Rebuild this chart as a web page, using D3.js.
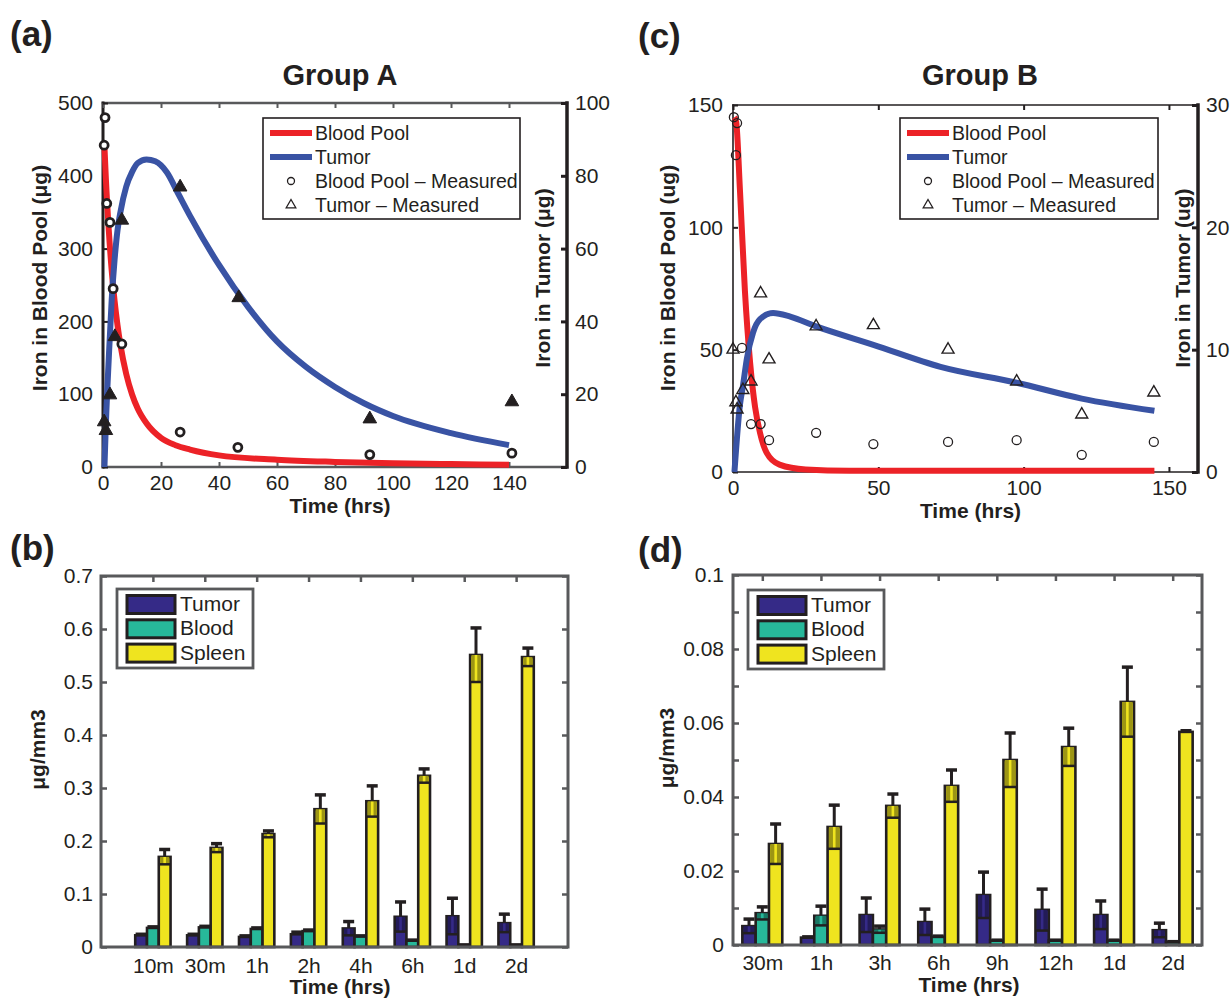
<!DOCTYPE html>
<html>
<head>
<meta charset="utf-8">
<script src="https://cdn.jsdelivr.net/npm/d3@7"></script>
<style>
  body { margin: 0; background: #fff; }
  svg { display: block; }
  text { font-family: "Liberation Sans", Arial, Helvetica, sans-serif; fill: #231f20; }
</style>
</head>
<body>
<svg id="fig" width="1231" height="1000"></svg>
<script>
// ---- Group A (panel a) ----
const aBloodFitT = [0.5, 1, 2, 3, 4, 5, 6, 8, 10, 12, 15, 20, 25, 30, 40, 60, 80, 100, 120, 140];
const aBloodFitV = [440, 395, 325, 270, 228, 195, 168, 128, 100, 80, 60, 40, 30, 24, 16, 10, 7, 5, 4, 3];
const aTumorFitT = [0.5, 1, 2, 3, 4, 5, 6, 8, 10, 12, 15, 18, 22, 26, 30, 40, 50, 60, 70, 80, 90, 100, 120, 140];
const aTumorFitV = [0, 12, 30, 46, 57, 65, 70, 77, 81, 83.5, 84.5, 84, 81, 75, 69, 55.5, 44, 34.5, 27.5, 22, 17.5, 14, 9.3, 6];
const aBloodMeasT = [0.7, 0.4, 1.3, 2.4, 3.5, 6.5, 26.6, 46.5, 92, 141];
const aBloodMeasV = [480, 442, 362, 336, 245, 169, 48, 27, 17, 19];
const aTumorMeasT = [0.4, 1.0, 2.4, 4.1, 6.5, 26.6, 46.8, 92, 141];
const aTumorMeasV = [12.4, 10, 19.8, 35.8, 67.8, 76.9, 46.5, 13.2, 17.9];

// ---- Group B (panel c) ----
const cBloodFitT = [0.5, 1.1, 2.4, 4.1, 5.9, 7.6, 9.3, 11.6, 16, 25, 40, 60, 100, 145];
const cBloodFitV = [145, 143, 115, 74, 44.5, 26.5, 16, 7.8, 3, 1, 0.5, 0.5, 0.5, 0.5];
const cTumorFitT = [0.5, 2.4, 3.4, 4.8, 6.9, 9.3, 13.8, 19.7, 28.6, 48.3, 71.4, 97.6, 120, 145];
const cTumorFitV = [0, 5.5, 7.0, 9.3, 11.4, 12.5, 13, 12.7, 11.9, 10.4, 8.6, 7.3, 6.0, 5.0];
const cBloodMeasT = [0.3, 1.4, 1, 3.1, 6.2, 9.5, 12.4, 28.6, 48.3, 74, 97.6, 120, 144.8];
const cBloodMeasV = [145, 142.6, 129.5, 50.7, 19.6, 19.6, 13, 16, 11.4, 12.3, 13, 7, 12.3];
const cTumorMeasT = [0, 1, 1.4, 3.4, 6.2, 9.5, 12.4, 28.6, 48.3, 74, 97.6, 120, 144.8];
const cTumorMeasV = [10, 5.7, 5.1, 6.7, 7.4, 14.6, 9.2, 11.9, 12, 10, 7.4, 4.7, 6.5];

// ---- bar panels ----
const seriesNames = ['Tumor', 'Blood', 'Spleen'];
const seriesColors = ['#352a87', '#27b89a', '#efe41f'];

const bCats = ['10m', '30m', '1h', '2h', '4h', '6h', '1d', '2d'];
const bTumor = [0.022, 0.022, 0.019, 0.024, 0.035, 0.057, 0.058, 0.045];
const bTumorErr = [0.002, 0.002, 0.002, 0.004, 0.013, 0.028, 0.034, 0.017];
const bBlood = [0.036, 0.037, 0.034, 0.030, 0.020, 0.012, 0.003, 0.003];
const bBloodErr = [0.002, 0.002, 0.002, 0.002, 0.001, 0.001, 0.001, 0.001];
const bSpleen = [0.170, 0.187, 0.213, 0.260, 0.275, 0.323, 0.551, 0.547];
const bSpleenErr = [0.014, 0.008, 0.006, 0.027, 0.029, 0.013, 0.051, 0.017];
const bTicks = [0, 0.1, 0.2, 0.3, 0.4, 0.5, 0.6, 0.7];

const dCats = ['30m', '1h', '3h', '6h', '9h', '12h', '1d', '2d'];
const dTumor = [0.0051, 0.002, 0.0081, 0.0062, 0.0135, 0.0095, 0.0081, 0.004];
const dTumorErr = [0.0019, 0.0002, 0.0046, 0.0035, 0.0062, 0.0056, 0.0038, 0.0019];
const dBlood = [0.0086, 0.0079, 0.0042, 0.0022, 0.0012, 0.0012, 0.0012, 0.0008];
const dBloodErr = [0.0017, 0.0026, 0.0009, 0.0002, 0.0001, 0.0001, 0.0001, 0.0001];
const dSpleen = [0.0273, 0.0319, 0.0376, 0.043, 0.05, 0.0535, 0.0657, 0.0576];
const dSpleenErr = [0.0054, 0.0059, 0.0032, 0.0043, 0.0073, 0.0051, 0.0094, 0.0003];
const dTicks = [0, 0.01, 0.02, 0.03, 0.04, 0.05, 0.06, 0.07, 0.08, 0.09, 0.1];
const dLabelTicks = ['0', '', '0.02', '', '0.04', '', '0.06', '', '0.08', '', '0.1'];

const svg = d3.select('#fig');
const ink = '#231f20';
const grey = '#58595b';
const red = '#ec2227';
const blue = '#3953a4';
const FS = 21;

function fixAxis(g, color, width) {
  g.attr('font-size', FS).attr('font-family', null).attr('color', color);
  g.select('.domain').remove();
  g.selectAll('.tick line').attr('stroke-width', width);
  g.selectAll('.tick text').attr('fill', ink);
}

function boxLine(x1, y1, x2, y2, color, width, cap = 'square') {
  svg.append('line').attr('x1', x1).attr('y1', y1).attr('x2', x2).attr('y2', y2)
    .attr('stroke', color).attr('stroke-width', width).attr('stroke-linecap', cap);
}

function label(txt, x, y, size, opts = {}) {
  const t = svg.append('text').attr('x', x).attr('y', y).attr('font-size', size)
    .attr('font-weight', opts.bold ? 'bold' : null)
    .attr('text-anchor', opts.anchor || 'start').text(txt);
  if (opts.rotate) t.attr('x', 0).attr('y', 0).attr('transform', `translate(${x},${y}) rotate(-90)`);
  return t;
}

function linePanel(p) {
  const x = d3.scaleLinear().domain([0, 160]).range([p.left, p.right]);
  const yL = d3.scaleLinear().domain([0, p.yLMax]).range([p.bottom, p.top]);
  const yR = d3.scaleLinear().domain([0, p.yRMax]).range([p.bottom, p.top]);

  // frame
  boxLine(p.left, p.top, p.right, p.top, p.frameColor, p.frameWidth);
  boxLine(p.left, p.bottom, p.right, p.bottom, p.frameColor, p.frameWidth);
  boxLine(p.left, p.top, p.left, p.bottom, ink, p.leftWidth);
  boxLine(p.right, p.top, p.right, p.bottom, ink, 3.5);

  svg.append('g').attr('transform', `translate(0,${p.bottom})`)
    .call(d3.axisBottom(x).tickValues(p.xTicks).tickSizeInner(-5).tickSizeOuter(0).tickPadding(8))
    .call((g) => fixAxis(g, p.frameColor, 2));
  svg.append('g').attr('transform', `translate(0,${p.top})`)
    .call(d3.axisTop(x).tickValues(p.xTicks).tickFormat('').tickSizeInner(-5).tickSizeOuter(0))
    .call((g) => fixAxis(g, p.frameColor, 2));
  svg.append('g').attr('transform', `translate(${p.left},0)`)
    .call(d3.axisLeft(yL).tickValues(p.yLTicks).tickSizeInner(-5).tickSizeOuter(0).tickPadding(10))
    .call((g) => fixAxis(g, ink, 2));
  svg.append('g').attr('transform', `translate(${p.right},0)`)
    .call(d3.axisRight(yR).tickValues(p.yRTicks).tickSizeInner(-6).tickSizeOuter(0).tickPadding(8))
    .call((g) => fixAxis(g, ink, 3));

  const lineL = d3.line().x((d) => x(d[0])).y((d) => yL(d[1])).curve(d3.curveMonotoneX);
  const lineR = d3.line().x((d) => x(d[0])).y((d) => yR(d[1])).curve(d3.curveMonotoneX);

  svg.append('path').attr('d', lineL(d3.zip(p.bloodFitT, p.bloodFitV)))
    .attr('fill', 'none').attr('stroke', red).attr('stroke-width', 6);
  svg.append('path').attr('d', lineR(d3.zip(p.tumorFitT, p.tumorFitV)))
    .attr('fill', 'none').attr('stroke', blue).attr('stroke-width', 6);

  svg.append('g').selectAll('circle').data(d3.zip(p.bloodMeasT, p.bloodMeasV)).join('circle')
    .attr('cx', (d) => x(d[0])).attr('cy', (d) => yL(d[1])).attr('r', p.filled ? 4 : 4.5)
    .attr('fill', p.filled ? '#fff' : 'none').attr('stroke', ink).attr('stroke-width', p.filled ? 2.8 : 1.3);

  const tri = d3.symbol().type(d3.symbolTriangle).size(p.filled ? 80 : 62);
  svg.append('g').selectAll('path').data(d3.zip(p.tumorMeasT, p.tumorMeasV)).join('path')
    .attr('d', tri).attr('transform', (d) => `translate(${x(d[0])},${yR(d[1])})`)
    .attr('fill', p.filled ? ink : 'none').attr('stroke', ink).attr('stroke-width', p.filled ? 1 : 1.4);

  // legend
  const L = p.legend;
  svg.append('rect').attr('x', L.x).attr('y', L.y).attr('width', L.w).attr('height', L.h)
    .attr('fill', '#fff').attr('stroke', ink).attr('stroke-width', 1.6);
  const rows = [L.y + 15, L.y + 39, L.y + 63, L.y + 87];
  const sx0 = L.x + 7, sx1 = L.x + 49, tx = L.x + 52, mx = L.x + 28;
  boxLine(sx0, rows[0], sx1, rows[0], red, 6, 'butt');
  boxLine(sx0, rows[1], sx1, rows[1], blue, 6, 'butt');
  svg.append('circle').attr('cx', mx).attr('cy', rows[2]).attr('r', 3.5)
    .attr('fill', 'none').attr('stroke', ink).attr('stroke-width', 1.3);
  svg.append('path').attr('d', d3.symbol().type(d3.symbolTriangle).size(40))
    .attr('transform', `translate(${mx},${rows[3]})`).attr('fill', 'none').attr('stroke', ink).attr('stroke-width', 1.3);
  ['Blood Pool', 'Tumor', 'Blood Pool \u2013 Measured', 'Tumor \u2013 Measured'].forEach((s, i) => {
    label(s, tx, rows[i] + 7, 19.5);
  });

  label(p.title, p.titleX, 85, 29, { bold: true, anchor: 'middle' });
  label('Time (hrs)', (p.left + p.right) / 2 + 5, p.bottom + 46, FS, { bold: true, anchor: 'middle' });
  label(p.yLLabel, p.yLLabelX, 278, FS, { bold: true, anchor: 'middle', rotate: true });
  label(p.yRLabel, p.yRLabelX, 278, FS, { bold: true, anchor: 'middle', rotate: true });
}

function barPanel(p) {
  const x = d3.scaleLinear().domain(p.xDomain).range([p.left, p.right]);
  const y = d3.scaleLinear().domain([0, p.yMax]).range([p.bottom, p.top]);
  const idx = p.cats.map((_, i) => i + 1);
  const step = x(2) - x(1);
  const bw = step * 0.227;

  const series = p.values.map((vals, s) => ({ name: seriesNames[s], color: seriesColors[s], vals, errs: p.errors[s], off: (s - 1) * bw }));

  series.forEach((s) => {
    svg.append('g').selectAll('rect').data(s.vals).join('rect')
      .attr('x', (d, i) => x(i + 1) + s.off - bw / 2).attr('width', bw)
      .attr('y', (d) => y(d)).attr('height', (d) => y(0) - y(d))
      .attr('fill', s.color).attr('stroke', ink).attr('stroke-width', 2.6);
  });

  series.forEach((s) => {
    const dark = d3.color(s.color).darker(1.2).formatHex();
    s.vals.forEach((v, i) => {
      const e = s.errs[i];
      const cx = x(i + 1) + s.off;
      const g = svg.append('g');
      const lo = y(Math.max(v - e, 0));
      if (lo - y(v) > 3) {
        g.append('rect').attr('x', cx - bw / 2 + 1.3).attr('width', bw - 2.6)
          .attr('y', y(v)).attr('height', lo - y(v)).attr('fill', dark);
        g.append('rect').attr('x', cx - 1.3).attr('width', 2.6)
          .attr('y', y(v)).attr('height', lo - y(v)).attr('fill', s.color);
        g.append('line').attr('x1', cx - bw / 2).attr('x2', cx + bw / 2).attr('y1', lo).attr('y2', lo)
          .attr('stroke', ink).attr('stroke-width', 2.5);
      }
      g.append('line').attr('x1', cx).attr('x2', cx).attr('y1', y(v)).attr('y2', y(v + e))
        .attr('stroke', ink).attr('stroke-width', 3);
      g.append('line').attr('x1', cx - 5.5).attr('x2', cx + 5.5).attr('y1', y(v + e)).attr('y2', y(v + e))
        .attr('stroke', ink).attr('stroke-width', 3.5);
    });
  });

  svg.append('g').attr('transform', `translate(0,${p.bottom})`)
    .call(d3.axisBottom(x).tickValues(idx).tickFormat((d) => p.cats[d - 1]).tickSizeInner(0).tickSizeOuter(0).tickPadding(p.xPad))
    .call((g) => fixAxis(g, grey, 2.5));
  svg.append('g').attr('transform', `translate(0,${p.top})`)
    .call(d3.axisTop(x).tickValues(idx).tickFormat('').tickSizeInner(-6).tickSizeOuter(0))
    .call((g) => fixAxis(g, grey, 2.5));
  svg.append('g').attr('transform', `translate(${p.left},0)`)
    .call(d3.axisLeft(y).tickValues(p.ticks).tickFormat((d, i) => p.tickLabels[i]).tickSizeInner(-6).tickSizeOuter(0).tickPadding(p.yPad))
    .call((g) => fixAxis(g, grey, 2.5));
  svg.append('g').attr('transform', `translate(${p.right},0)`)
    .call(d3.axisRight(y).tickValues(p.ticks).tickFormat('').tickSizeInner(-6).tickSizeOuter(0))
    .call((g) => fixAxis(g, grey, 2.5));
  svg.append('rect').attr('x', p.left).attr('y', p.top).attr('width', p.right - p.left).attr('height', p.bottom - p.top)
    .attr('fill', 'none').attr('stroke', grey).attr('stroke-width', 3);

  // legend
  const L = p.legend;
  svg.append('rect').attr('x', L.x).attr('y', L.y).attr('width', 136).attr('height', 79)
    .attr('fill', '#fff').attr('stroke', grey).attr('stroke-width', 2.8);
  series.forEach((s, i) => {
    svg.append('rect').attr('x', L.x + 10).attr('y', L.y + 6.5 + i * 24.3).attr('width', 48).attr('height', 18)
      .attr('fill', s.color).attr('stroke', ink).attr('stroke-width', 3);
    label(s.name, L.x + 63, L.y + 22 + i * 24.3, FS);
  });

  label('Time (hrs)', p.timeX, p.bottom + 47, FS, { bold: true, anchor: 'middle' });
  label('\u03bcg/mm3', p.yLabelX, (p.top + p.bottom) / 2 - 12, FS, { bold: true, anchor: 'middle', rotate: true });
}

linePanel({
  left: 103, right: 567, top: 103, bottom: 467,
  yLMax: 500, yRMax: 100,
  xTicks: [0, 20, 40, 60, 80, 100, 120, 140],
  yLTicks: [0, 100, 200, 300, 400, 500],
  yRTicks: [0, 20, 40, 60, 80, 100],
  frameColor: grey, frameWidth: 2.5, leftWidth: 3,
  filled: true,
  bloodFitT: aBloodFitT, bloodFitV: aBloodFitV, tumorFitT: aTumorFitT, tumorFitV: aTumorFitV,
  bloodMeasT: aBloodMeasT, bloodMeasV: aBloodMeasV, tumorMeasT: aTumorMeasT, tumorMeasV: aTumorMeasV,
  legend: { x: 263, y: 118, w: 257, h: 101 },
  title: 'Group A', titleX: 340,
  yLLabel: 'Iron in Blood Pool (\u03bcg)', yLLabelX: 47,
  yRLabel: 'Iron in Tumor (\u03bcg)', yRLabelX: 550,
});

linePanel({
  left: 733, right: 1198, top: 105, bottom: 472,
  yLMax: 150, yRMax: 30,
  xTicks: [0, 50, 100, 150],
  yLTicks: [0, 50, 100, 150],
  yRTicks: [0, 10, 20, 30],
  frameColor: ink, frameWidth: 1.6, leftWidth: 1.6,
  filled: false,
  bloodFitT: cBloodFitT, bloodFitV: cBloodFitV, tumorFitT: cTumorFitT, tumorFitV: cTumorFitV,
  bloodMeasT: cBloodMeasT, bloodMeasV: cBloodMeasV, tumorMeasT: cTumorMeasT, tumorMeasV: cTumorMeasV,
  legend: { x: 900, y: 118, w: 258, h: 101 },
  title: 'Group B', titleX: 980,
  yLLabel: 'Iron in Blood Pool (ug)', yLLabelX: 675,
  yRLabel: 'Iron in Tumor (ug)', yRLabelX: 1190,
});

barPanel({
  left: 101, right: 568, top: 576, bottom: 947,
  xDomain: [0, 9], yMax: 0.7,
  cats: bCats, values: [bTumor, bBlood, bSpleen], errors: [bTumorErr, bBloodErr, bSpleenErr],
  ticks: bTicks, tickLabels: bTicks.map(String),
  xPad: 11, yPad: 8,
  legend: { x: 117, y: 589 },
  timeX: 340, yLabelX: 45,
});

barPanel({
  left: 733, right: 1202, top: 575, bottom: 945,
  xDomain: [0.5, 8.5], yMax: 0.1,
  cats: dCats, values: [dTumor, dBlood, dSpleen], errors: [dTumorErr, dBloodErr, dSpleenErr],
  ticks: dTicks, tickLabels: dLabelTicks,
  xPad: 10, yPad: 9,
  legend: { x: 748, y: 590 },
  timeX: 969, yLabelX: 674,
});

label('(a)', 10, 46, 35, { bold: true });
label('(b)', 10, 560, 35, { bold: true });
label('(c)', 638, 48, 35, { bold: true });
label('(d)', 638, 562, 35, { bold: true });
</script>
</body>
</html>
